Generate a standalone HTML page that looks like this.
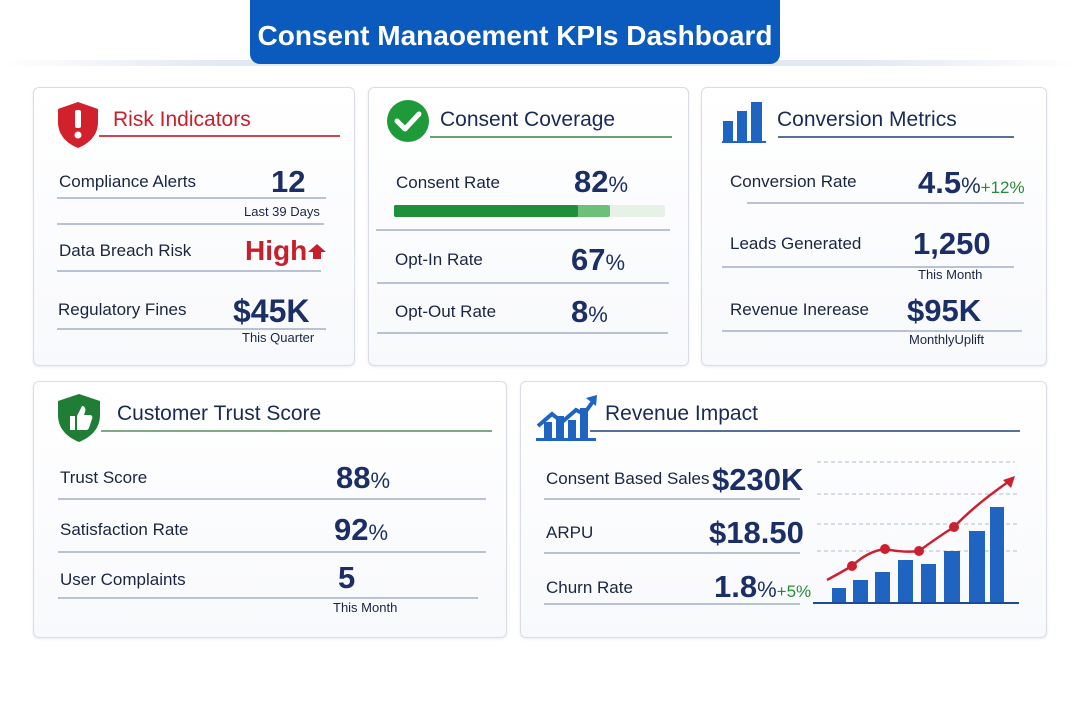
<!DOCTYPE html>
<html><head><meta charset="utf-8"><style>
body{margin:0;width:1080px;height:720px;background:#fff;position:relative;overflow:hidden;font-family:"Liberation Sans",sans-serif}
.t{position:absolute;line-height:1;white-space:nowrap;color:#1a2540}
.l{font-size:17px}
.v{font-weight:bold;color:#1b2f66;font-size:31px}
.v small{font-size:22px;font-weight:normal}
.s{font-size:13px;color:#1a2540}
.h{font-size:21px;color:#1a2a55}
.ln{position:absolute;height:1.5px;background:#b9c2d2}
.card{position:absolute;border:1px solid #d8dde6;border-radius:6px;background:linear-gradient(#fff,#f8f9fc);box-shadow:0 1px 3px rgba(0,0,0,.08)}
.g{color:#2a8a3a;font-size:17px;font-weight:normal}
</style></head><body>
<div style="position:absolute;left:0;top:60px;width:1080px;height:6px;background:linear-gradient(90deg,#fff,#e3e9f2 20%,#e3e9f2 80%,#fff)"></div>
<div style="position:absolute;left:250px;top:0;width:530px;height:64px;background:#0a5bbd;border-radius:0 0 10px 10px"></div>
<div class="t" style="left:250px;width:530px;text-align:center;top:22px;font-size:28px;font-weight:bold;color:#fff">Consent Manaoement KPIs Dashboard</div>

<div class="card" style="left:33px;top:87px;width:320px;height:277px"></div>
<div class="card" style="left:368px;top:87px;width:319px;height:277px"></div>
<div class="card" style="left:701px;top:87px;width:344px;height:277px"></div>
<div class="card" style="left:33px;top:381px;width:472px;height:255px"></div>
<div class="card" style="left:520px;top:381px;width:525px;height:255px"></div>

<!-- Risk -->
<svg style="position:absolute;left:56px;top:100px" width="44" height="50"><path d="M22 2 L42 9 V22 C42 36 32 44 22 48 C12 44 2 36 2 22 V9Z" fill="#d0212c"/><rect x="19" y="10" width="6" height="18" rx="2" fill="#fff"/><circle cx="22" cy="35" r="3.5" fill="#fff"/></svg>
<div class="t h" style="left:113px;top:109px;color:#c8202a">Risk Indicators</div>
<div class="ln" style="left:99px;top:135px;width:241px;background:#d0454d"></div>
<div class="t l" style="left:59px;top:173px">Compliance Alerts</div>
<div class="t v" style="left:271px;top:166px">12</div>
<div class="ln" style="left:57px;top:197px;width:269px"></div>
<div class="t s" style="left:244px;top:205px">Last 39 Days</div>
<div class="ln" style="left:57px;top:223px;width:267px"></div>
<div class="t l" style="left:59px;top:242px">Data Breach Risk</div>
<div class="t v" style="left:245px;top:237px;color:#c8202a;font-size:28px">High</div>
<svg style="position:absolute;left:307px;top:243px" width="20" height="17"><path d="M10 1 L19 9 H14 V16 H6 V9 H1Z" fill="#c8202a"/></svg>
<div class="ln" style="left:57px;top:270px;width:264px"></div>
<div class="t l" style="left:58px;top:301px">Regulatory Fines</div>
<div class="t v" style="left:233px;top:295px;font-size:32px">$45K</div>
<div class="ln" style="left:57px;top:328px;width:269px"></div>
<div class="t s" style="left:242px;top:331px">This Quarter</div>

<!-- Consent -->
<svg style="position:absolute;left:386px;top:99px" width="44" height="44"><circle cx="22" cy="22" r="21" fill="#1f9a3a"/><path d="M11 22 L19 30 L33 15" stroke="#fff" stroke-width="5" fill="none" stroke-linecap="round" stroke-linejoin="round"/></svg>
<div class="t h" style="left:440px;top:109px">Consent Coverage</div>
<div class="ln" style="left:430px;top:136px;width:242px;background:#6aa273"></div>
<div class="t l" style="left:396px;top:174px">Consent Rate</div>
<div class="t v" style="left:574px;top:166px">82<small>%</small></div>
<div style="position:absolute;left:394px;top:205px;width:271px;height:12px;background:#e6f2e8;border-radius:2px"></div>
<div style="position:absolute;left:394px;top:205px;width:216px;height:12px;background:#6cc07a;border-radius:2px"></div>
<div style="position:absolute;left:394px;top:205px;width:184px;height:12px;background:#1f8f3a;border-radius:2px"></div>
<div class="ln" style="left:376px;top:229px;width:294px"></div>
<div class="t l" style="left:395px;top:251px">Opt-In Rate</div>
<div class="t v" style="left:571px;top:244px">67<small>%</small></div>
<div class="ln" style="left:377px;top:282px;width:292px"></div>
<div class="t l" style="left:395px;top:303px">Opt-Out Rate</div>
<div class="t v" style="left:571px;top:296px">8<small>%</small></div>
<div class="ln" style="left:377px;top:332px;width:291px"></div>

<!-- Conversion -->
<svg style="position:absolute;left:722px;top:101px" width="46" height="43"><rect x="1" y="20" width="10" height="21" fill="#1e64c0"/><rect x="15" y="10" width="10" height="31" fill="#1e64c0"/><rect x="29" y="1" width="11" height="40" fill="#1e64c0"/><rect x="0" y="40" width="44" height="2" fill="#1e64c0"/></svg>
<div class="t h" style="left:777px;top:109px">Conversion Metrics</div>
<div class="ln" style="left:778px;top:136px;width:236px;background:#5a6e9a"></div>
<div class="t l" style="left:730px;top:173px">Conversion Rate</div>
<div class="t v" style="left:918px;top:167px">4.5<small>%</small><span class="g">+12%</span></div>
<div class="ln" style="left:747px;top:202px;width:277px"></div>
<div class="t l" style="left:730px;top:235px">Leads Generated</div>
<div class="t v" style="left:913px;top:228px">1,250</div>
<div class="ln" style="left:722px;top:266px;width:292px"></div>
<div class="t s" style="left:918px;top:268px">This Month</div>
<div class="t l" style="left:730px;top:301px">Revenue Inerease</div>
<div class="t v" style="left:907px;top:295px">$95K</div>
<div class="ln" style="left:722px;top:330px;width:300px"></div>
<div class="t s" style="left:909px;top:333px">MonthlyUplift</div>

<!-- Trust -->
<svg style="position:absolute;left:55px;top:392px" width="48" height="52"><path d="M24 2 L45 9 V23 C45 38 34 46 24 50 C14 46 3 38 3 23 V9Z" fill="#1f7d36"/><path d="M15 24 h5 v14 h-5z M22 38 V24 L27 14 C30 14 31 17 30 20 L29 23 H35 C37 23 38 25 37 27 L34 36 C33 38 32 38 30 38Z" fill="#fff"/></svg>
<div class="t h" style="left:117px;top:403px">Customer Trust Score</div>
<div class="ln" style="left:101px;top:430px;width:391px;background:#7fa886"></div>
<div class="t l" style="left:60px;top:469px">Trust Score</div>
<div class="t v" style="left:336px;top:462px">88<small>%</small></div>
<div class="ln" style="left:58px;top:498px;width:428px"></div>
<div class="t l" style="left:60px;top:521px">Satisfaction Rate</div>
<div class="t v" style="left:334px;top:514px">92<small>%</small></div>
<div class="ln" style="left:58px;top:551px;width:428px"></div>
<div class="t l" style="left:60px;top:571px">User Complaints</div>
<div class="t v" style="left:338px;top:562px">5</div>
<div class="ln" style="left:58px;top:597px;width:420px"></div>
<div class="t s" style="left:333px;top:601px">This Month</div>

<!-- Revenue -->
<svg style="position:absolute;left:536px;top:394px" width="64" height="48"><rect x="8" y="28" width="8" height="16" fill="#1e64c0"/><rect x="20" y="22" width="8" height="22" fill="#1e64c0"/><rect x="32" y="26" width="8" height="18" fill="#1e64c0"/><rect x="44" y="14" width="8" height="30" fill="#1e64c0"/><rect x="0" y="44" width="60" height="3" fill="#1e64c0"/><path d="M2 32 L16 20 L26 28 L40 16 L48 20 L58 6" stroke="#1e64c0" stroke-width="4" fill="none"/><path d="M50 4 L61 1 L60 12Z" fill="#1e64c0"/></svg>
<div class="t h" style="left:605px;top:403px">Revenue Impact</div>
<div class="ln" style="left:590px;top:430px;width:430px;background:#5a6e9a"></div>
<div class="t l" style="left:546px;top:470px">Consent Based Sales</div>
<div class="t v" style="left:712px;top:464px">$230K</div>
<div class="ln" style="left:544px;top:498px;width:256px"></div>
<div class="t l" style="left:546px;top:524px">ARPU</div>
<div class="t v" style="left:709px;top:517px">$18.50</div>
<div class="ln" style="left:544px;top:552px;width:256px"></div>
<div class="t l" style="left:546px;top:579px">Churn Rate</div>
<div class="t v" style="left:714px;top:571px">1.8<small>%</small><span class="g">+5%</span></div>
<div class="ln" style="left:544px;top:603px;width:256px"></div>
<svg style="position:absolute;left:810px;top:455px" width="215" height="152">
<g stroke="#b4bccb" stroke-dasharray="4 3" stroke-width="1"><line x1="7" y1="7" x2="205" y2="7"/><line x1="7" y1="39" x2="210" y2="39"/><line x1="7" y1="69" x2="210" y2="69"/><line x1="7" y1="96" x2="210" y2="96"/></g>
<g fill="#1e64c0"><rect x="22" y="133" width="14" height="15"/><rect x="43" y="125" width="15" height="23"/><rect x="65" y="117" width="15" height="31"/><rect x="88" y="105" width="15" height="43"/><rect x="111" y="109" width="15" height="39"/><rect x="134" y="96" width="16" height="52"/><rect x="159" y="76" width="16" height="72"/><rect x="180" y="52" width="14" height="96"/></g>
<rect x="3" y="147" width="206" height="2" fill="#1e4a9a"/>
<path d="M17 125 Q30 118 42 111 Q58 96 75 94 Q95 98 109 96 Q128 82 144 72 Q165 50 198 27" stroke="#cc2030" stroke-width="2.5" fill="none"/>
<path d="M193 25 L205 21 L201 33Z" fill="#cc2030"/>
<g fill="#cc2030"><circle cx="42" cy="111" r="5"/><circle cx="75" cy="94" r="5"/><circle cx="109" cy="96" r="5"/><circle cx="144" cy="72" r="5"/></g>
</svg>
</body></html>
